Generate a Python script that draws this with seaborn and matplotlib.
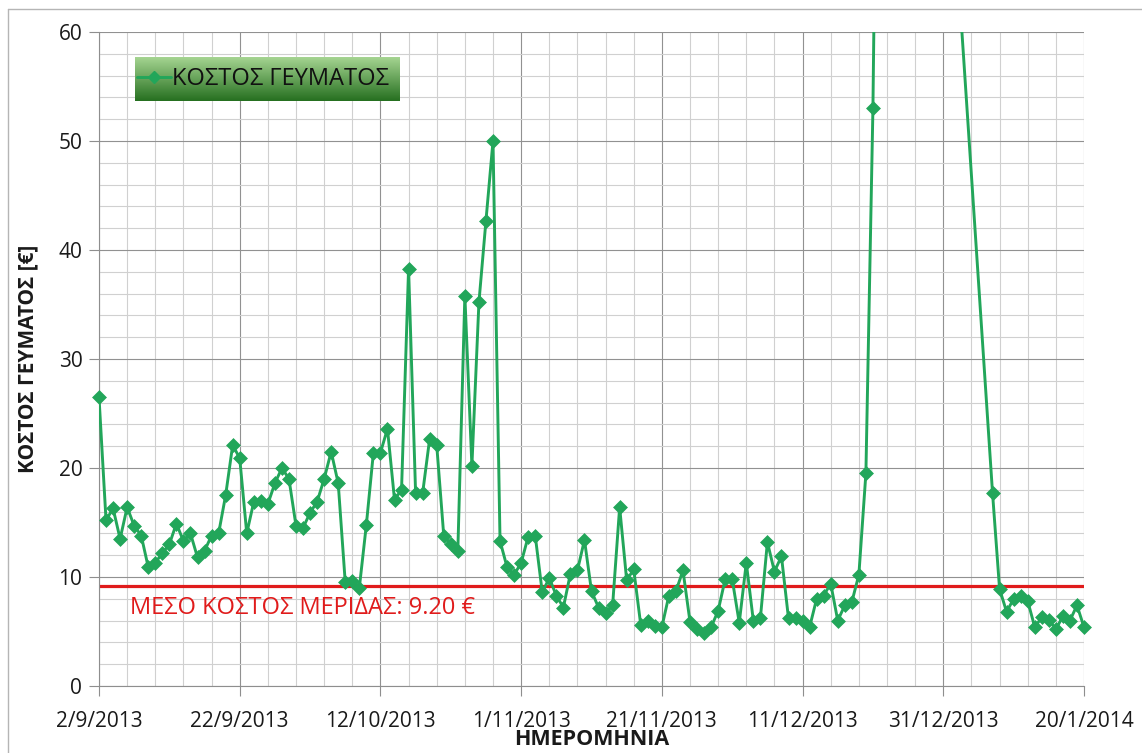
import matplotlib
matplotlib.use('Agg')
import numpy as np
import pandas as pd
import seaborn as sns
import matplotlib.pyplot as plt
import matplotlib.dates as mdates
from matplotlib.lines import Line2D

# ημερομηνίες: καθημερινά, με κενό τις γιορτές
days_main = pd.date_range('2013-09-02', '2013-12-21', freq='D')
days_xmas = pd.to_datetime(['2013-12-23'])
days_jan = pd.date_range('2014-01-07', '2014-01-20', freq='D')

cost_sep = [26.5, 15.2, 16.3, 13.5, 16.4, 14.7, 13.8, 10.9, 11.3, 12.2, 13.0, 14.9, 13.3, 14.0, 11.8,
            12.4, 13.8, 14.0, 17.5, 22.1, 20.9, 14.0, 16.9, 17.0, 16.7, 18.6, 20.0, 19.0, 14.7]
cost_oct = [14.5, 15.9, 16.9, 19.0, 21.5, 18.6, 9.5, 9.6, 9.0, 14.8, 21.4, 21.4, 23.6, 17.1, 18.0, 38.3,
            17.7, 17.7, 22.7, 22.1, 13.8, 13.0, 12.4, 35.8, 20.2, 35.2, 42.7, 50.0, 13.3, 10.9, 10.2]
cost_nov = [11.3, 13.7, 13.8, 8.6, 9.9, 8.3, 7.2, 10.3, 10.6, 13.4, 8.7, 7.2, 6.7, 7.4, 16.4,
            9.7, 10.7, 5.6, 6.0, 5.5, 5.4, 8.3, 8.7, 10.6, 5.9, 5.2, 4.9, 5.4, 6.9, 9.8]
cost_dec = [9.8, 5.8, 11.3, 6.0, 6.2, 13.2, 10.5, 11.9, 6.2, 6.2, 6.0, 5.4, 8.0, 8.3, 9.4, 6.0,
            7.4, 7.7, 10.2, 19.5, 53.0]
cost_xmas = [163.5]
cost_jan = [17.7, 8.9, 6.8, 8.0, 8.3, 7.8, 5.4, 6.3, 6.1, 5.2, 6.4, 6.0, 7.4, 5.4]

mean_cost = 9.20
x_ticks = pd.date_range('2013-09-02', '2014-01-20', freq='20D')
x_minor = pd.date_range('2013-09-02', '2014-01-20', freq='4D')

LINE_GREEN = '#22a65a'
RED = '#e01b1b'


def build_frame() -> pd.DataFrame:
    dates = days_main.append(days_xmas).append(days_jan)
    values = cost_sep + cost_oct + cost_nov + cost_dec + cost_xmas + cost_jan
    assert len(dates) == len(values)
    return pd.DataFrame({'date': dates, 'cost': values})


def plot_meal_cost(df: pd.DataFrame) -> None:
    sns.set_theme(style='white')
    plt.rcParams['font.family'] = ['Open Sans', 'DejaVu Sans']

    fig = plt.figure(figsize=(11.42, 7.53), dpi=100)
    ax = fig.add_axes([99 / 1142, 1 - 686 / 753, 985 / 1142, 654 / 753])

    # η γραμμή κόβεται στο πλαίσιο, οι ρόμβοι όχι (όπως στο Excel)
    sns.lineplot(data=df, x='date', y='cost', ax=ax, color=LINE_GREEN, linewidth=2.1, zorder=3)
    sns.scatterplot(data=df, x='date', y='cost', ax=ax, color=LINE_GREEN, marker='D', s=50,
                    edgecolor=LINE_GREEN, linewidth=0.5, zorder=3.1, clip_on=False)
    ax.axhline(mean_cost, color=RED, linewidth=2.3, zorder=2.5)
    ax.text(0.031, 0.119, f'ΜΕΣΟ ΚΟΣΤΟΣ ΜΕΡΙΔΑΣ: {mean_cost:.2f} €', transform=ax.transAxes,
            color=RED, fontsize=17, va='center', ha='left', zorder=4)

    # άξονες
    ax.set_xlim(mdates.date2num(x_ticks[0]), mdates.date2num(x_ticks[-1]))
    ax.set_ylim(0, 60)
    ax.set_xticks(mdates.date2num(x_ticks))
    ax.set_xticklabels([f'{d.day}/{d.month}/{d.year}' for d in x_ticks])
    ax.set_xticks(mdates.date2num(x_minor), minor=True)
    ax.set_yticks(np.arange(0, 61, 10))
    ax.set_yticks(np.arange(0, 61, 2), minor=True)

    ax.grid(which='major', color='#919191', linewidth=0.8, zorder=0)
    ax.grid(which='minor', color='#d0d0d0', linewidth=0.8, zorder=0)
    ax.set_axisbelow(True)

    ax.tick_params(axis='both', which='major', labelsize=15, colors='#8e8e8e', labelcolor='#1a1a1a',
                   length=7, width=0.8, direction='out')
    ax.tick_params(axis='x', which='major', pad=11)
    ax.tick_params(axis='y', which='major', pad=5)
    ax.tick_params(which='minor', length=0)
    ax.xaxis.set_ticks_position('bottom')
    ax.yaxis.set_ticks_position('left')

    for side in ['top', 'right']:
        ax.spines[side].set_visible(False)
    for side in ['left', 'bottom']:
        ax.spines[side].set_color('#8e8e8e')
        ax.spines[side].set_linewidth(0.8)

    ax.set_xlabel('ΗΜΕΡΟΜΗΝΙΑ', fontsize=15.5, fontweight='bold', color='#1a1a1a')
    ax.set_ylabel('ΚΟΣΤΟΣ ΓΕΥΜΑΤΟΣ [€]', fontsize=15, fontweight='bold', color='#1a1a1a')
    ax.xaxis.set_label_coords(0.5, -0.066)
    ax.yaxis.set_label_coords(-0.062, 0.5)

    # υπόμνημα με πράσινη διαβάθμιση
    x0, x1 = (135 - 99) / 985, (400 - 99) / 985
    y0, y1 = (686 - 101) / 654, (686 - 57) / 654
    top = np.array([165, 212, 145]) / 255
    bottom = np.array([38, 112, 32]) / 255
    t = np.linspace(0, 1, 64)[:, None]
    grad = (top[None, :] * (1 - t) + bottom[None, :] * t)[:, None, :]
    ax.imshow(grad, extent=[x0, x1, y0, y1], transform=ax.transAxes, aspect='auto',
              zorder=4, interpolation='bilinear')
    ax.set_xlim(mdates.date2num(x_ticks[0]), mdates.date2num(x_ticks[-1]))
    ax.set_ylim(0, 60)

    legend_handle = Line2D([], [], color=LINE_GREEN, linewidth=2.1, marker='D', markersize=6.5)
    leg = ax.legend([legend_handle], ['ΚΟΣΤΟΣ ΓΕΥΜΑΤΟΣ'], loc='center left',
                    bbox_to_anchor=(x0 + 0.002, (y0 + y1) / 2), frameon=False,
                    fontsize=17, handlelength=1.45, handletextpad=0.05, borderpad=0.0,
                    borderaxespad=0.0)
    leg.set_zorder(5)
    for txt in leg.get_texts():
        txt.set_color('#111111')

    # περίγραμμα περιοχής γραφήματος
    fig.add_artist(Line2D([8 / 1142, 1.0], [1 - 9 / 753, 1 - 9 / 753], transform=fig.transFigure,
                          color='#b5b5b5', linewidth=1))
    fig.add_artist(Line2D([8 / 1142, 8 / 1142], [0.0, 1 - 9 / 753], transform=fig.transFigure,
                          color='#b5b5b5', linewidth=1))

    fig.savefig('out.png', dpi=100)


def main() -> None:
    df = build_frame()
    plot_meal_cost(df)


if __name__ == '__main__':
    main()
